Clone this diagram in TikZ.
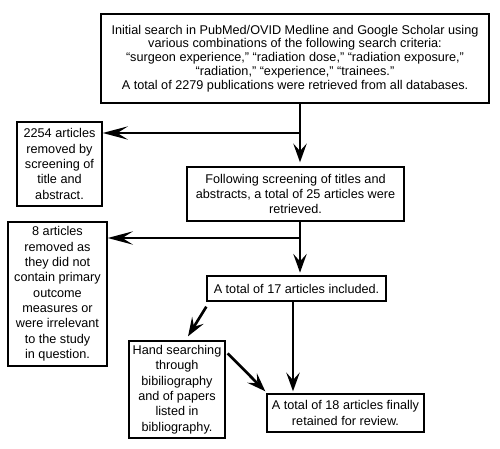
\documentclass[tikz,border=0pt]{standalone}
\usepackage{fontspec}
\setmainfont{Liberation Sans}
\usetikzlibrary{arrows.meta,calc}
\begin{document}
\begin{tikzpicture}[x=0.75pt,y=-0.75pt,
  box/.style={draw=black,line width=1pt,rectangle,inner sep=0pt,align=center,
    font=\fontsize{9.5pt}{11.5pt}\selectfont},
  ln/.style={line width=2pt},
  harr/.style={line width=2pt,-{Stealth[length=19pt,width=10pt,inset=8pt]}},
  varr/.style={line width=2pt,-{Stealth[length=14pt,width=10pt,inset=5.5pt]}},
  darr/.style={line width=2pt,-{Stealth[length=14pt,width=10pt,inset=5.5pt]}}]
\useasboundingbox[fill=white] (0,0) rectangle (500,449);

\node[box,minimum width=291pt,minimum height=66.75pt,
  font=\fontsize{9.5pt}{10.4pt}\selectfont] (top) at (295,58.5)
  {Initial search in PubMed/OVID Medline and Google Scholar using\\
   various combinations of the following search criteria:\\
   “surgeon experience,” “radiation dose,” “radiation exposure,”\\
   “radiation,” “experience,” “trainees.”\\
   A total of 2279 publications were retrieved from all databases.};
\node[box,minimum width=63.75pt,minimum height=63pt] (b2254) at (59.5,164)
  {2254 articles\\removed by\\screening of\\title and\\abstract.};
\node[box,minimum width=162.75pt,minimum height=40.5pt] (b25) at (295.5,194)
  {Following screening of titles and\\abstracts, a total of 25 articles were\\retrieved.};
\node[box,minimum width=74.25pt,minimum height=108pt] (b8) at (57.5,294)
  {8 articles\\removed as\\they did not\\contain primary\\outcome\\measures or\\were irrelevant\\to the study\\in question.};
\node[box,minimum width=134.25pt,minimum height=18.75pt] (b17) at (296.5,288.5)
  {A total of 17 articles included.};
\node[box,minimum width=72pt,minimum height=72.75pt] (hand) at (177,389.5)
  {Hand searching\\through\\bibiliography\\and of papers\\listed in\\bibliography.};
\node[box,minimum width=117.75pt,minimum height=28.5pt] (b18) at (345.5,413)
  {A total of 18 articles finally\\retained for review.};

\coordinate (j1) at (300,133);
\coordinate (j2) at (300,238);
\coordinate (j3) at (293,301);

\draw[ln] (top.south -| j1) -- (j1);
\draw[harr] (j1) -- (j1 -| b2254.east);
\draw[varr,shorten >=3pt] (j1) -- (j1 |- b25.north);

\draw[ln] (b25.south -| j2) -- (j2);
\draw[harr] (j2) -- (j2 -| b8.east);
\draw[varr,shorten >=2pt] (j2) -- (j2 |- b17.north);

\draw[varr,shorten >=1.5pt] (b17.south -| j3) -- (b18.north -| j3);

\draw[darr] ([yshift=-3.75pt]b17.south west) -- ([xshift=8.25pt,yshift=3pt]hand.north);
\draw[darr] ([xshift=1.5pt,yshift=-9.75pt]hand.north east) -- ([xshift=-0.75pt,yshift=1.5pt]b18.north west);
\end{tikzpicture}
\end{document}
